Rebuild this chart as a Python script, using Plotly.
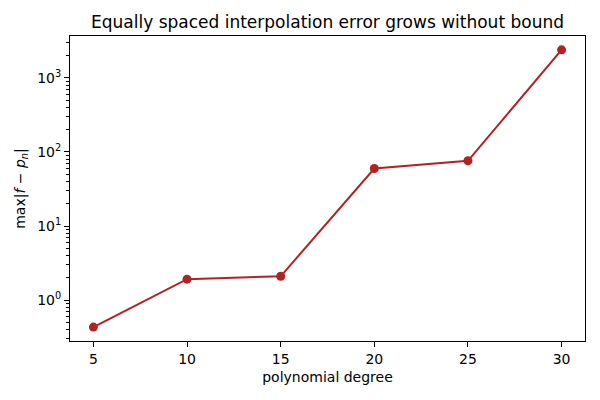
import numpy as np
import plotly.graph_objects as go

# polynomial degree vs. max error
degrees = [5, 10, 15, 20, 25, 30]
max_err = [0.433, 1.92, 2.10, 59.8, 76.0, 2390.0]

major_vals = [1, 10, 100, 1000]
major_text = ["10<sup>0</sup>", "10<sup>1</sup>", "10<sup>2</sup>", "10<sup>3</sup>"]
minor_vals = [m * 10.0 ** e for e in range(-1, 4) for m in range(2, 10)]

font = "DejaVu Sans"

fig = go.Figure()
fig.add_trace(go.Scatter(
    x=degrees,
    y=max_err,
    mode="lines+markers",
    line=dict(color="#B22222", width=2),
    marker=dict(color="#B22222", size=9),
))

# page body has an 8px margin, so margins are shifted to compensate
fig.update_layout(
    width=600,
    height=400,
    margin=dict(l=62, r=23, t=28, b=67),
    paper_bgcolor="white",
    plot_bgcolor="white",
    showlegend=False,
    font=dict(family=font, size=14, color="black"),
    title=dict(
        text="Equally spaced interpolation error grows without bound",
        xref="paper", x=0.5, xanchor="center",
        yref="container", y=0.965, yanchor="middle",
        font=dict(family=font, size=17, color="black"),
    ),
)

fig.update_xaxes(
    range=[3.75, 31.25],
    tickvals=degrees,
    ticks="outside", ticklen=5, tickwidth=1, tickcolor="black",
    showline=True, linecolor="black", linewidth=1, mirror=True,
    showgrid=False, zeroline=False,
    title=dict(text="polynomial degree", font=dict(family=font, size=14), standoff=6),
)

fig.update_yaxes(
    type="log",
    range=[-0.551, 3.565],
    tickvals=major_vals, ticktext=major_text,
    ticks="outside", ticklen=5, tickwidth=1, tickcolor="black",
    minor=dict(tickvals=minor_vals, ticks="outside", ticklen=3, tickwidth=0.8,
               tickcolor="black", showgrid=False),
    showline=True, linecolor="black", linewidth=1, mirror=True,
    showgrid=False, zeroline=False,
    title=dict(text="max|<i>f</i> − <i>p</i><sub><i>n</i></sub>|",
               font=dict(family=font, size=14), standoff=8),
)

fig.write_html("out.html")
